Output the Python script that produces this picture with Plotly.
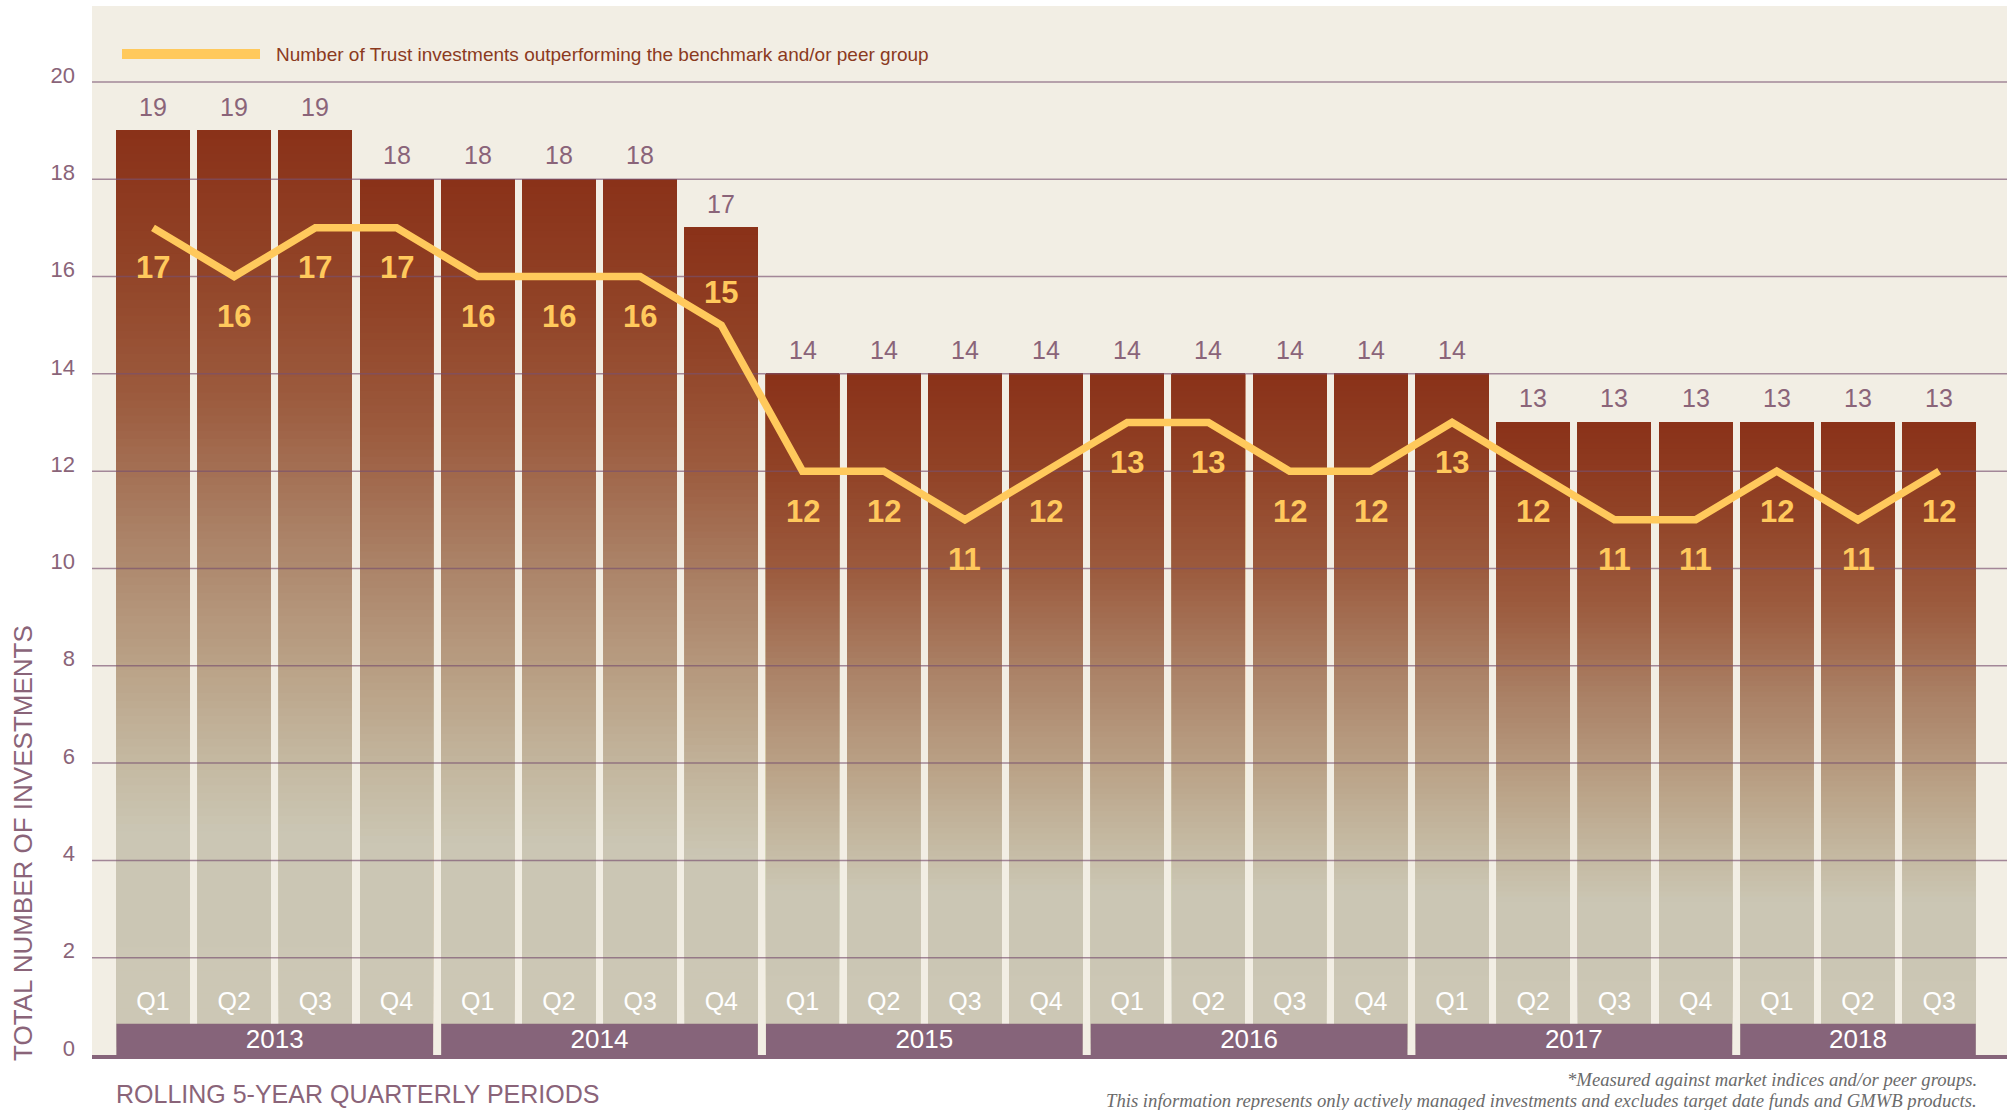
import plotly.graph_objects as go

# ---------------- data ----------------
quarters = ["Q1", "Q2", "Q3", "Q4",
            "Q1", "Q2", "Q3", "Q4",
            "Q1", "Q2", "Q3", "Q4",
            "Q1", "Q2", "Q3", "Q4",
            "Q1", "Q2", "Q3", "Q4",
            "Q1", "Q2", "Q3"]
years = ["2013", "2014", "2015", "2016", "2017", "2018"]
quarters_per_year = [4, 4, 4, 4, 4, 3]
total_investments = [19, 19, 19, 18,
                     18, 18, 18, 17,
                     14, 14, 14, 14,
                     14, 14, 14, 14,
                     14, 13, 13, 13,
                     13, 13, 13]
outperforming = [17, 16, 17, 17,
                 16, 16, 16, 15,
                 12, 12, 11, 12,
                 13, 13, 12, 12,
                 13, 12, 11, 11,
                 12, 11, 12]
y_ticks = [0, 2, 4, 6, 8, 10, 12, 14, 16, 18, 20]
grid_values = [2, 4, 6, 8, 10, 12, 14, 16, 18, 20]
legend_label = "Number of Trust investments outperforming the benchmark and/or peer group"
y_title = "TOTAL NUMBER OF INVESTMENTS"
x_title = "ROLLING 5-YEAR QUARTERLY PERIODS"
footnote_1 = "*Measured against market indices and/or peer groups."
footnote_2 = "This information represents only actively managed investments and excludes target date funds and GMWB products."

# ---------------- style ----------------
BG = "#F2EEE4"
MAUVE = "#86647A"
TICK_COLOR = "#8A6479"
YELLOW = "#FFC95C"
RUST_TEXT = "#8B3A1E"
SANS = "Liberation Sans, Arial, Helvetica, sans-serif"
SERIF = "Liberation Serif, Times New Roman, serif"
BAR_WIDTH = 0.9
N_SLICES = 120
X_RANGE = [-0.751, 22.835]
Y_RANGE = [0, 21.56]
BAND_HEIGHT = 0.64
Q_LABEL_Y = 1.05
YEAR_LABEL_Y = 0.28

# gradient stops: fraction of bar height -> rgb
grad_stops = [
    (0.00, (204, 199, 181)),
    (0.24, (203, 198, 180)),
    (0.32, (196, 184, 160)),
    (0.43, (185, 160, 133)),
    (0.57, (170, 128, 101)),
    (0.71, (156, 91, 62)),
    (0.86, (145, 66, 38)),
    (1.00, (138, 50, 25)),
]


def grad(f):
    for (f0, c0), (f1, c1) in zip(grad_stops[:-1], grad_stops[1:]):
        if f0 <= f <= f1:
            t = (f - f0) / (f1 - f0)
            c = [round(a + (b - a) * t) for a, b in zip(c0, c1)]
            return "rgb(%d,%d,%d)" % tuple(c)
    return "rgb(%d,%d,%d)" % grad_stops[-1][1]


x_idx = list(range(len(quarters)))

fig = go.Figure()

# gradient bars (stacked overlapping slices, each extending to bar top)
for k in range(N_SLICES):
    f0 = k / N_SLICES
    fig.add_trace(go.Bar(
        x=x_idx,
        y=[v * (1 - f0) for v in total_investments],
        base=[v * f0 for v in total_investments],
        width=BAR_WIDTH,
        marker=dict(color=grad((k + 0.5) / N_SLICES), line=dict(width=0)),
        hoverinfo="skip",
        showlegend=False,
    ))

# year bands
band_centers, band_widths = [], []
start = 0
for n in quarters_per_year:
    band_centers.append(start + (n - 1) / 2)
    band_widths.append(n - 1 + BAR_WIDTH)
    start += n
fig.add_trace(go.Bar(
    x=band_centers, y=[BAND_HEIGHT] * len(years), width=band_widths,
    marker=dict(color=MAUVE, line=dict(width=0)),
    hoverinfo="skip", showlegend=False,
))

# gridlines above bars
gx, gy = [], []
for g in grid_values:
    gx += [X_RANGE[0], X_RANGE[1], None]
    gy += [g, g, None]
fig.add_trace(go.Scatter(
    x=gx, y=gy, mode="lines",
    line=dict(color="rgba(120,80,110,0.65)", width=1.5),
    hoverinfo="skip", showlegend=False,
))

# outperforming line
fig.add_trace(go.Scatter(
    x=x_idx, y=outperforming, mode="lines",
    line=dict(color=YELLOW, width=7.5),
    name=legend_label, showlegend=False,
))

# quarter labels
fig.add_trace(go.Scatter(
    x=x_idx, y=[Q_LABEL_Y] * len(quarters), mode="text", text=quarters,
    textfont=dict(family=SANS, size=25, color="#FFFFFF"),
    hoverinfo="skip", showlegend=False,
))
# year labels
fig.add_trace(go.Scatter(
    x=band_centers, y=[YEAR_LABEL_Y] * len(years), mode="text", text=years,
    textfont=dict(family=SANS, size=26, color="#FFFFFF"),
    hoverinfo="skip", showlegend=False,
))

annotations = []
for i, v in enumerate(total_investments):
    annotations.append(dict(
        x=i, y=v, xref="x", yref="y", text=str(v), showarrow=False,
        yshift=24, font=dict(family=SANS, size=25, color=TICK_COLOR),
    ))
for i, v in enumerate(outperforming):
    nxt = outperforming[i + 1] if i + 1 < len(outperforming) else v
    above = (v - nxt) >= 2
    annotations.append(dict(
        x=i, y=v, xref="x", yref="y", text="<b>%d</b>" % v, showarrow=False,
        yshift=33 if above else -40,
        font=dict(family=SANS, size=31, color=YELLOW),
    ))

W, H = 2007, 1110
ML, MR, MT, MB = 92, 0, 6, 55
PW, PH = W - ML - MR, H - MT - MB


def px_x(px):
    return (px - ML) / PW


def px_y(py):
    return (H - MB - py) / PH


annotations += [
    dict(xref="paper", yref="paper", x=px_x(274), y=px_y(54), xanchor="left", yanchor="middle",
         text=legend_label, showarrow=False, font=dict(family=SANS, size=19, color=RUST_TEXT)),
    dict(xref="paper", yref="paper", x=px_x(23), y=px_y(843), xanchor="center", yanchor="middle",
         text=y_title, textangle=-90, showarrow=False, font=dict(family=SANS, size=26, color=TICK_COLOR)),
    dict(xref="paper", yref="paper", x=px_x(114), y=px_y(1094), xanchor="left", yanchor="middle",
         text=x_title, showarrow=False, font=dict(family=SANS, size=25, color=TICK_COLOR)),
    dict(xref="paper", yref="paper", x=px_x(1979), y=px_y(1079), xanchor="right", yanchor="middle",
         text="<i>" + footnote_1 + "</i>", showarrow=False, font=dict(family=SERIF, size=18.7, color="#6B6B6B")),
    dict(xref="paper", yref="paper", x=px_x(1979), y=px_y(1100), xanchor="right", yanchor="middle",
         text="<i>" + footnote_2 + "</i>", showarrow=False, font=dict(family=SERIF, size=18.7, color="#6B6B6B")),
]

shapes = [
    dict(type="line", xref="paper", yref="paper", x0=px_x(122), x1=px_x(260), y0=px_y(54), y1=px_y(54),
         line=dict(color=YELLOW, width=10)),
]

fig.update_layout(
    width=W, height=H,
    margin=dict(l=ML, r=MR, t=MT, b=MB, autoexpand=False),
    paper_bgcolor="#FFFFFF",
    plot_bgcolor=BG,
    barmode="overlay",
    showlegend=False,
    annotations=annotations,
    shapes=shapes,
    xaxis=dict(range=X_RANGE, showticklabels=False, showgrid=False, zeroline=False,
               showline=True, linecolor=MAUVE, linewidth=4, ticks="", automargin=False),
    yaxis=dict(range=Y_RANGE, tickvals=y_ticks, ticktext=[str(t) for t in y_ticks],
               showgrid=False, zeroline=False, showline=False, ticks="",
               tickfont=dict(family=SANS, size=22, color=TICK_COLOR),
               ticklabelstandoff=16, ticklabelshift=-7, automargin=False),
)

fig.write_html("out.html",
               config={"displayModeBar": False},
               post_script="document.body.style.margin='0';document.body.style.overflow='hidden';")
